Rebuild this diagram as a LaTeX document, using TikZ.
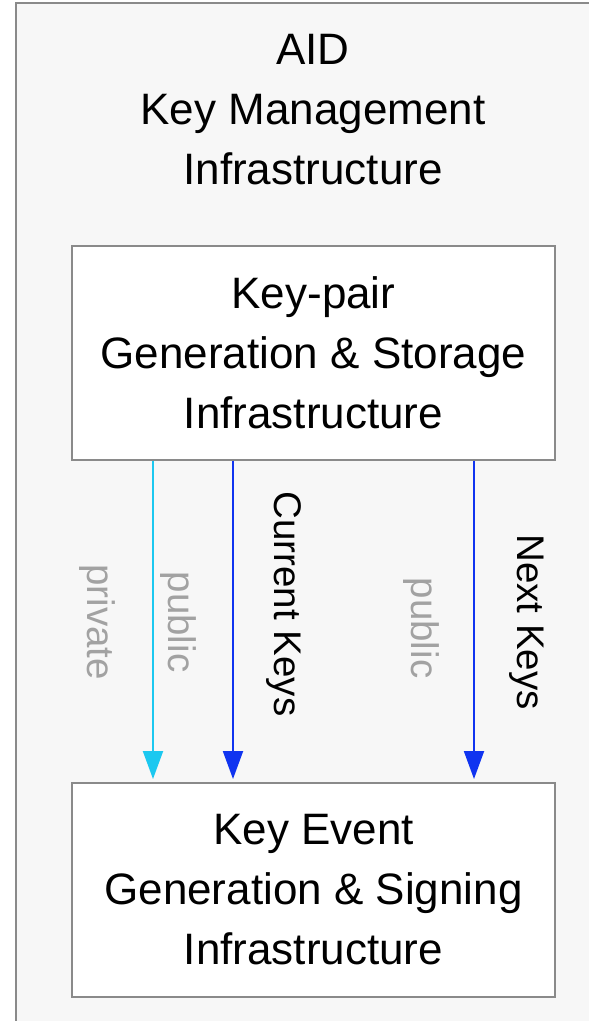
\documentclass[tikz,border=0pt]{standalone}
\usepackage{fontspec}
\setmainfont{Liberation Sans}
\usetikzlibrary{arrows.meta}

\definecolor{paneGray}{HTML}{F7F7F7}
\definecolor{edgeGray}{HTML}{8A8A8A}
\definecolor{keyCyan}{HTML}{1CC8F0}
\definecolor{keyBlue}{HTML}{1034F0}
\definecolor{softGray}{HTML}{A2A2A2}

\begin{document}
\begin{tikzpicture}[x=1pt,y=-1pt,line width=2pt,
    infra/.style={draw=edgeGray,fill=white,minimum width=483pt,minimum height=214pt,
      inner sep=0pt,align=center,font=\fontsize{44}{60}\selectfont},
    keyflow/.style={-{Triangle[width=20pt,length=28pt]},shorten >=3pt},
    keylabel/.style={rotate=-90,inner sep=0pt,font=\fontsize{38.5}{46}\selectfont}]
      \pgfmathsetmacro{\W}{589}
      \pgfmathsetmacro{\H}{1021}

      \useasboundingbox (0,0) rectangle (\W,\H);
      \fill[white] (0,0) rectangle (\W,\H);
      \fill[paneGray] (16,3) rectangle (\W+5,\H+5);
      \draw[edgeGray] (16,\H+5) -- (16,3) -- (\W+5,3);

      \node[align=center,font=\fontsize{44}{60}\selectfont] (title) at (313,110)
        {AID\\Key Management\\Infrastructure};

      \node[infra] (keypair) at (313.5,352.5) {Key-pair\\Generation \& Storage\\Infrastructure};
      \node[infra] (keyevent) at (313.5,890) {Key Event\\Generation \& Signing\\Infrastructure};

      \coordinate (priv) at (153,0);
      \coordinate (curr) at (233,0);
      \coordinate (next) at (474,0);

      \draw[keyflow,keyCyan] (keypair.south -| priv) -- (keyevent.north -| priv);
      \draw[keyflow,keyBlue] (keypair.south -| curr) -- (keyevent.north -| curr);
      \draw[keyflow,keyBlue] (keypair.south -| next) -- (keyevent.north -| next);

      \node[keylabel,softGray] (privlbl) at (97,622) {private};
      \node[keylabel,softGray] (publbl) at (178,622) {public};
      \node[keylabel] (currlbl) at (284,604) {Current Keys};
      \node[keylabel,softGray] (nextpub) at (421,628) {public};
      \node[keylabel] (nextlbl) at (527,622) {Next Keys};
    \end{tikzpicture}
\end{document}
